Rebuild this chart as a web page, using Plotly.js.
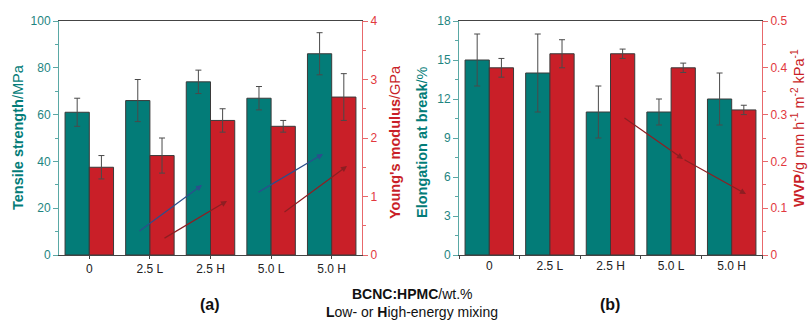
<!DOCTYPE html>
<html>
<head>
<meta charset="utf-8">
<script src="https://cdn.plot.ly/plotly-3.0.1.min.js"></script>
<style>html,body{margin:0;padding:0;background:#fff}#chart{width:809px;height:322px}</style>
</head>
<body>
<div id="chart"></div>
<script>
const categories = ["0", "2.5 L", "2.5 H", "5.0 L", "5.0 H"];
const tensile = [61, 66, 74, 67, 86];
const tensileErr = [6, 9, 5, 5, 9];
const youngs = [1.5, 1.7, 2.3, 2.2, 2.7];
const youngsErr = [0.2, 0.3, 0.2, 0.1, 0.4];
const elongation = [15, 14, 11, 11, 12];
const elongationErr = [2, 3, 2, 1, 2];
const wvp = [0.40, 0.43, 0.43, 0.40, 0.31];
const wvpErr = [0.02, 0.03, 0.01, 0.01, 0.01];

const TEAL = "#037C78", RED = "#C91F28";
const TEAL_T = "#1E8581", RED_T = "#E2383E";
const W = 809, H = 322;
const px = x => x / W, py = y => 1 - y / H;
const FONT = "Liberation Sans, Arial, sans-serif";

function bar(y, err, color, xa, ya, off) {
  return {
    type: "bar", x: categories, y: y, xaxis: xa, yaxis: ya,
    width: 0.4, offset: off,
    marker: {color: color, line: {color: "#3a3a3a", width: 1}},
    error_y: {type: "data", array: err, visible: true, color: "#4a4a4a", thickness: 1, width: 3},
    showlegend: false, hoverinfo: "x+y"
  };
}

const data = [
  bar(tensile, tensileErr, TEAL, "x", "y", -0.4),
  bar(youngs, youngsErr, RED, "x", "y2", 0),
  bar(elongation, elongationErr, TEAL, "x2", "y3", -0.4),
  bar(wvp, wvpErr, RED, "x2", "y4", 0)
];

const ydom = [py(255), py(21)];
function xaxis(dom, anchor, tickson) {
  return {
    domain: dom, anchor: anchor, type: "category", range: [-0.5, 4.5],
    showline: true, linecolor: "#444", linewidth: 1, mirror: true,
    ticks: "outside", ticklen: 3, tickcolor: "#444", tickson: tickson,
    tickfont: {family: FONT, size: 12, color: "#222"}, showgrid: false, zeroline: false, fixedrange: true
  };
}
function yaxis(anchor, range, dtick, color, tcolor, side, overlay) {
  const a = {
    domain: ydom, anchor: anchor, range: range, dtick: dtick, side: side,
    showline: true, linecolor: color, linewidth: 1,
    ticks: "outside", ticklen: 5, tickcolor: color,
    minor: {ticks: "outside", ticklen: 3, tickcolor: color, dtick: dtick / 2},
    tickfont: {family: FONT, size: 12, color: tcolor},
    showgrid: false, zeroline: false, fixedrange: true
  };
  if (overlay) a.overlaying = overlay;
  return a;
}

const layout = {
  width: W, height: H, margin: {l: 0, r: 0, t: 0, b: 0},
  paper_bgcolor: "#fff", plot_bgcolor: "rgba(0,0,0,0)",
  xaxis: xaxis([px(59), px(362)], "y", "labels"),
  xaxis2: xaxis([px(459), px(762)], "y3", "boundaries"),
  yaxis: yaxis("x", [0, 100], 20, "#5AA8A5", TEAL_T, "left"),
  yaxis2: yaxis("x", [0, 4], 1, "#E8686B", RED_T, "right", "y"),
  yaxis3: yaxis("x2", [0, 18], 3, "#5AA8A5", TEAL_T, "left"),
  yaxis4: yaxis("x2", [0, 0.5], 0.1, "#E8686B", RED_T, "right", "y3"),
  annotations: [],
  font: {family: FONT}
};

function title(x, y, text, color) {
  return {xref: "paper", yref: "paper", x: px(x), y: py(y), text: text, showarrow: false,
    textangle: -90, xanchor: "center", yanchor: "middle",
    font: {family: FONT, size: 14.5, color: color}};
}
layout.annotations.push(
  title(18, 137, "<b>Tensile strength</b>/MPa", TEAL),
  title(395, 142, "<b>Young's modulus</b>/GPa", RED),
  title(422, 142, "<b>Elongation at break</b>/%", TEAL),
  title(798, 128, "<b>WVP</b>/g mm h<sup>-1</sup> m<sup>-2</sup> kPa<sup>-1</sup>", RED)
);

function txt(x, y, text, size) {
  return {xref: "paper", yref: "paper", x: px(x), y: py(y), text: text, showarrow: false,
    xanchor: "center", yanchor: "middle", font: {family: FONT, size: size, color: "#111"}};
}
layout.annotations.push(
  txt(210, 304, "<b>(a)</b>", 16),
  txt(610, 304, "<b>(b)</b>", 16),
  txt(413, 294, "<b>BCNC:HPMC</b>/wt.%", 14),
  txt(412, 312, "<b>L</b>ow- or <b>H</b>igh-energy mixing", 14)
);

function arrow(tx, ty, hx, hy, color) {
  return {xref: "paper", yref: "paper", x: px(hx), y: py(hy), ax: tx - hx, ay: ty - hy,
    axref: "pixel", ayref: "pixel", text: "", showarrow: true,
    arrowhead: 2, arrowsize: 1, arrowwidth: 1.2, arrowcolor: color};
}
const BLUE = "#2B4F8C", DRED = "#8E1E22";
layout.annotations.push(
  arrow(138, 232, 202, 185, BLUE),
  arrow(163, 239, 227, 201, DRED),
  arrow(257, 193, 323, 154, BLUE),
  arrow(283, 213, 347, 166, DRED),
  arrow(623, 117, 683, 159, DRED),
  arrow(683, 159, 746, 194, DRED)
);

Plotly.newPlot("chart", data, layout, {displayModeBar: false, staticPlot: true});
</script>
</body>
</html>
